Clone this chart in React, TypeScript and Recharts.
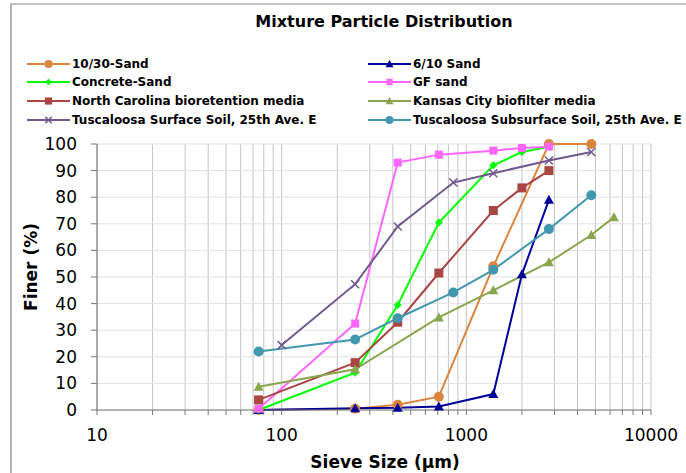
import React from 'react';
import { LineChart, Line, XAxis, YAxis, CartesianGrid } from 'recharts';

// x ticks: every 1..9 step of each decade, labels only at powers of ten
const xTicks = [
  10, 20, 30, 40, 50, 60, 70, 80, 90,
  100, 200, 300, 400, 500, 600, 700, 800, 900,
  1000, 2000, 3000, 4000, 5000, 6000, 7000, 8000, 9000,
  10000,
];
const yTicks = [0, 10, 20, 30, 40, 50, 60, 70, 80, 90, 100];

// sieve sizes (µm) and percent finer, per mixture
const tenThirtyX = [75, 250, 425, 710, 1400, 2800, 4750];
const tenThirtyY = [0, 0.5, 2, 5, 54, 100, 100];

const sixTenX = [75, 250, 425, 710, 1400, 2000, 2800];
const sixTenY = [0, 0.7, 0.8, 1.3, 6, 51, 79];

const concreteX = [75, 250, 425, 710, 1400, 2000, 2800];
const concreteY = [0, 14, 39.5, 70.5, 92, 97, 99];

const gfX = [75, 250, 425, 710, 1400, 2000, 2800];
const gfY = [0.5, 32.5, 93, 96, 97.5, 98.5, 99];

const ncX = [75, 250, 425, 710, 1400, 2000, 2800];
const ncY = [3.8, 17.8, 33, 51.5, 75, 83.5, 90];

const kcX = [75, 250, 710, 1400, 2800, 4750, 6300];
const kcY = [8.7, 15.3, 34.8, 45, 55.5, 65.8, 72.5];

const tsX = [100, 250, 425, 850, 1400, 2800, 4750];
const tsY = [24.4, 47.3, 69, 85.5, 89, 93.8, 97];

const tssX = [75, 250, 425, 850, 1400, 2800, 4750];
const tssY = [22, 26.5, 34.5, 44.2, 52.7, 68, 80.7];

const zip = (xs: number[], ys: number[]) => xs.map((x, i) => ({ x, y: ys[i] }));

type Shape = 'circle' | 'triangle' | 'diamond' | 'square' | 'x';

const series: { name: string; color: string; shape: Shape; size: number; data: { x: number; y: number }[] }[] = [
  { name: '10/30-Sand', color: '#DB843D', shape: 'circle', size: 10, data: zip(tenThirtyX, tenThirtyY) },
  { name: '6/10 Sand', color: '#000099', shape: 'triangle', size: 10, data: zip(sixTenX, sixTenY) },
  { name: 'Concrete-Sand', color: '#00FF00', shape: 'diamond', size: 8, data: zip(concreteX, concreteY) },
  { name: 'GF sand', color: '#FF66FF', shape: 'square', size: 8, data: zip(gfX, gfY) },
  { name: 'North Carolina bioretention media', color: '#AA4643', shape: 'square', size: 9, data: zip(ncX, ncY) },
  { name: 'Kansas City biofilter media', color: '#89A54E', shape: 'triangle', size: 10, data: zip(kcX, kcY) },
  { name: 'Tuscaloosa Surface Soil, 25th Ave. E', color: '#71588F', shape: 'x', size: 8, data: zip(tsX, tsY) },
  { name: 'Tuscaloosa Subsurface Soil, 25th Ave. E', color: '#4198AF', shape: 'circle', size: 10, data: zip(tssX, tssY) },
];

const FONT = '"DejaVu Sans", Arial, sans-serif';

function Marker({ cx, cy, shape, color, size }: { cx: number; cy: number; shape: Shape; color: string; size: number }) {
  const h = size / 2;
  switch (shape) {
    case 'circle':
      return <circle cx={cx} cy={cy} r={h} fill={color} />;
    case 'square':
      return <rect x={cx - h} y={cy - h} width={size} height={size} fill={color} />;
    case 'triangle':
      return <polygon points={`${cx},${cy - h} ${cx + h},${cy + h * 0.8} ${cx - h},${cy + h * 0.8}`} fill={color} />;
    case 'diamond':
      return <polygon points={`${cx},${cy - h} ${cx + h},${cy} ${cx},${cy + h} ${cx - h},${cy}`} fill={color} />;
    default:
      return (
        <path
          d={`M${cx - h},${cy - h}L${cx + h},${cy + h}M${cx - h},${cy + h}L${cx + h},${cy - h}`}
          stroke={color}
          strokeWidth={1.5}
          fill="none"
        />
      );
  }
}

const isPow10 = (v: number) => Math.abs(Math.log10(v) - Math.round(Math.log10(v))) < 1e-9;

const XTick = (props: any) => {
  const { x, y, payload } = props;
  if (!isPow10(payload.value)) return null;
  return (
    <text x={x} y={y + 24} textAnchor="middle" fontFamily={FONT} fontSize={17} fill="#000">
      {payload.value}
    </text>
  );
};

const YTick = (props: any) => {
  const { x, y, payload } = props;
  return (
    <text x={x - 12} y={y + 6} textAnchor="end" fontFamily={FONT} fontSize={17} fill="#000">
      {payload.value}
    </text>
  );
};

const YTitle = () => (
  <text
    x={31}
    y={267}
    transform="rotate(-90 31 267)"
    textAnchor="middle"
    dominantBaseline="central"
    fontFamily={FONT}
    fontWeight="bold"
    fontSize={17}
    fill="#000"
  >
    Finer (%)
  </text>
);

const XTitle = () => (
  <text x={385} y={468} textAnchor="middle" fontFamily={FONT} fontWeight="bold" fontSize={17} fill="#000">
    Sieve Size (µm)
  </text>
);

const legendCols = [27, 368];
const legendRows = [64, 82, 101, 120];

export default function App() {
  return (
    <div style={{ position: 'absolute', left: 0, top: 0, width: 686, height: 473, overflow: 'hidden', background: '#fff' }}>
      <div
        style={{
          position: 'absolute',
          left: 10,
          top: 3,
          width: 720,
          height: 520,
          borderLeft: '2px solid #b4b4b4',
          borderTop: '2px solid #c4c4c4',
        }}
      />
      <div
        style={{
          position: 'absolute',
          left: 0,
          width: 768,
          top: 11,
          textAlign: 'center',
          fontFamily: FONT,
          fontWeight: 'bold',
          fontSize: 16,
          lineHeight: '22px',
        }}
      >
        Mixture Particle Distribution
      </div>
      {series.map((s, i) => (
        <div
          key={s.name}
          style={{
            position: 'absolute',
            left: legendCols[i % 2],
            top: legendRows[Math.floor(i / 2)] - 8,
            height: 16,
            display: 'flex',
            alignItems: 'center',
            whiteSpace: 'nowrap',
            fontFamily: FONT,
            fontWeight: 'bold',
            fontSize: 12,
          }}
        >
          <svg width={43} height={12} style={{ marginRight: 2 }}>
            <line x1={0} y1={6} x2={43} y2={6} stroke={s.color} strokeWidth={2} />
            <Marker cx={21.5} cy={6} shape={s.shape} color={s.color} size={s.size * 0.8} />
          </svg>
          <span>{s.name}</span>
        </div>
      ))}
      <div style={{ position: 'absolute', left: 0, top: 0 }}>
        <LineChart width={686} height={473} margin={{ top: 144, right: 35, bottom: 0, left: 0 }}>
          <CartesianGrid horizontal={false} stroke="#c4c4c4" />
          <CartesianGrid vertical={false} stroke="#e2e2e2" />
          <XAxis
            dataKey="x"
            type="number"
            scale="log"
            domain={[10, 10000]}
            ticks={xTicks}
            interval={0}
            allowDataOverflow
            allowDuplicatedCategory={false}
            height={63}
            tick={<XTick />}
            tickSize={5}
            stroke="#777"
            label={<XTitle />}
          />
          <YAxis
            type="number"
            domain={[0, 100]}
            ticks={yTicks}
            interval={0}
            width={97}
            tick={<YTick />}
            tickSize={6}
            stroke="#777"
            label={<YTitle />}
          />
          {series.map((s) => (
            <Line
              key={s.name}
              data={s.data}
              dataKey="y"
              type="linear"
              stroke={s.color}
              strokeWidth={2}
              isAnimationActive={false}
              dot={(p: any) => (
                <Marker key={`${s.name}-${p.index}`} cx={p.cx} cy={p.cy} shape={s.shape} color={s.color} size={s.size} />
              )}
              activeDot={false}
            />
          ))}
        </LineChart>
      </div>
    </div>
  );
}
